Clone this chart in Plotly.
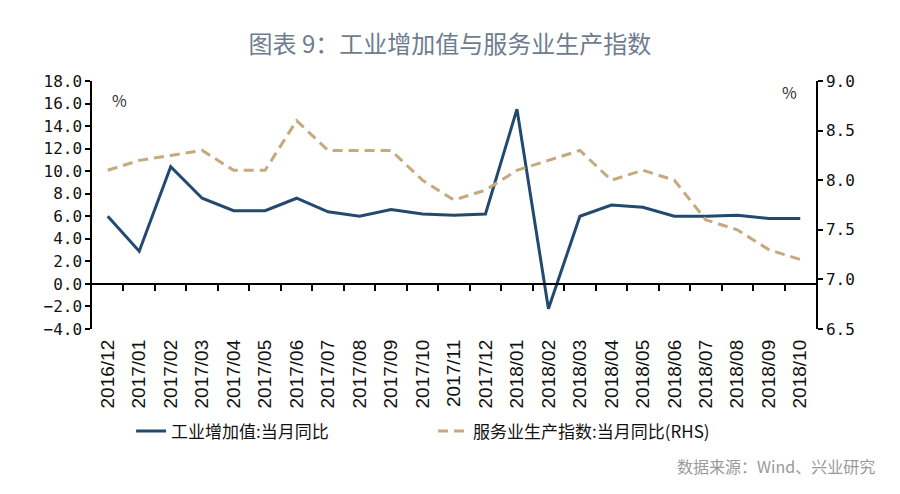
import plotly.graph_objects as go

categories = ["2016/12", "2017/01", "2017/02", "2017/03", "2017/04", "2017/05", "2017/06",
              "2017/07", "2017/08", "2017/09", "2017/10", "2017/11", "2017/12", "2018/01",
              "2018/02", "2018/03", "2018/04", "2018/05", "2018/06", "2018/07", "2018/08",
              "2018/09", "2018/10"]
industry = [6.0, 2.9, 10.4, 7.6, 6.5, 6.5, 7.6, 6.4, 6.0, 6.6, 6.2, 6.1, 6.2, 15.5,
            -2.2, 6.0, 7.0, 6.8, 6.0, 6.0, 6.1, 5.8, 5.8]
services = [8.1, 8.2, 8.25, 8.3, 8.1, 8.1, 8.6, 8.3, 8.3, 8.3, 8.0, 7.8, 7.9, 8.1,
            8.2, 8.3, 8.0, 8.1, 8.0, 7.6, 7.5, 7.3, 7.2]
name_industry = "工业增加值:当月同比"
name_services = "服务业生产指数:当月同比(RHS)"
title_text = "图表 9：工业增加值与服务业生产指数"
source_text = "数据来源：Wind、兴业研究"

y_range = [-4, 18]
y2_range = [6.5, 9.0]

BLUE = "#234a6e"
TAN = "#c6aa7e"
CJK = "Noto Sans CJK SC"
MONO = "DejaVu Sans Mono"

fig = go.Figure()
fig.add_trace(go.Scatter(x=categories, y=industry, name=name_industry, mode="lines",
                         line=dict(color=BLUE, width=3), yaxis="y"))
fig.add_trace(go.Scatter(x=categories, y=services, name=name_services, mode="lines",
                         line=dict(color=TAN, width=3, dash="10px,6px"), yaxis="y2"))
# helper trace so the zero-line axis is drawn
fig.add_trace(go.Scatter(x=[], y=[], xaxis="x2", yaxis="y", showlegend=False, hoverinfo="skip"))

zero_pos = (0 - y_range[0]) / (y_range[1] - y_range[0])
n = len(categories)

fig.update_layout(
    width=900, height=494,
    margin=dict(l=84, r=92, t=73, b=173),
    plot_bgcolor="white", paper_bgcolor="white",
    showlegend=True,
    title=dict(text=title_text, x=0.491, xref="container", xanchor="center",
               y=0.925, yref="container", yanchor="middle",
               font=dict(family=CJK, size=24, color="#6e7c8e")),
    xaxis=dict(type="category", range=[-0.5, n - 0.5], showline=False, ticks="",
               tickangle=-90, showgrid=False, zeroline=False,
               tickfont=dict(family="Liberation Sans", size=19, color="#111"),
               ticklabelstandoff=6),
    xaxis2=dict(overlaying="x", anchor="free", position=zero_pos, range=[-0.5, n - 0.5],
                showline=True, linecolor="black", linewidth=1.5,
                ticks="outside", ticklen=6, tickwidth=1.5, tickcolor="black",
                tickmode="array", tickvals=[i + 0.5 for i in range(n - 1)],
                showticklabels=False, showgrid=False, zeroline=False),
    yaxis=dict(range=y_range, dtick=2, tickformat=".1f", showline=True, linecolor="black",
               linewidth=1.5, ticks="outside", ticklen=5, tickwidth=1.5, tickcolor="black",
               showgrid=False, zeroline=False,
               tickfont=dict(family=MONO, size=16, color="#111")),
    yaxis2=dict(range=y2_range, dtick=0.5, tickformat=".1f", overlaying="y", side="right",
                showline=True, linecolor="black", linewidth=1.5, ticks="outside", ticklen=5,
                tickwidth=1.5, tickcolor="black", showgrid=False, zeroline=False,
                tickfont=dict(family=MONO, size=16, color="#111")),
    legend=dict(orientation="h", x=0.054, xanchor="left", y=-0.413, yanchor="middle",
                font=dict(family=CJK, size=17, color="#111"), entrywidth=257,
                bgcolor="rgba(0,0,0,0)"),
    annotations=[
        dict(text="%", x=0.38, y=16.3, xref="x", yref="y", showarrow=False,
             font=dict(family=CJK, size=16, color="#333")),
        dict(text="%", x=21.67, y=17.0, xref="x", yref="y", showarrow=False,
             font=dict(family=CJK, size=16, color="#333")),
        dict(text=source_text, x=1.084, y=-0.554, xref="paper", yref="paper",
             xanchor="right", yanchor="middle", showarrow=False,
             font=dict(family=CJK, size=16, color="#9a9a9a")),
    ],
)

fig.write_html("out.html")
